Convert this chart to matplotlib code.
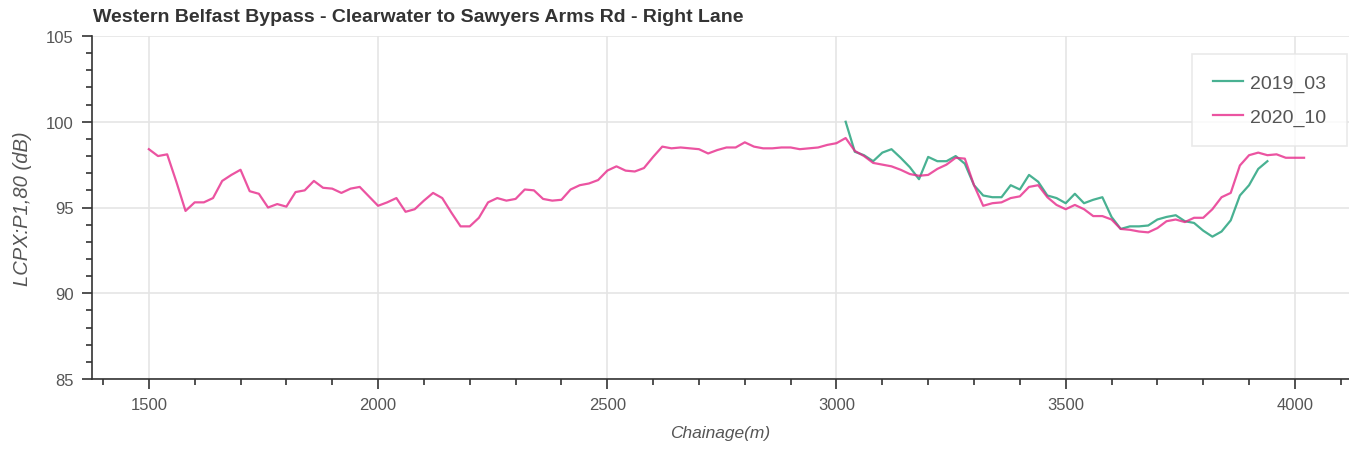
import numpy as np
import matplotlib
matplotlib.use("Agg")
import matplotlib.pyplot as plt
from matplotlib.ticker import MultipleLocator

# chainage (m) sampled every 20 m
ch_2020 = np.arange(1500, 4021, 20)
lcpx_2020 = [
    98.4, 98.0, 98.1, 96.5, 94.8, 95.3, 95.3, 95.55, 96.55, 96.9,
    97.2, 95.95, 95.8, 95.0, 95.2, 95.05, 95.9, 96.0, 96.55, 96.15,
    96.1, 95.85, 96.1, 96.2, 95.65, 95.1, 95.3, 95.55, 94.75, 94.9,
    95.4, 95.85, 95.55, 94.7, 93.9, 93.9, 94.4, 95.3, 95.55, 95.4,
    95.5, 96.05, 96.0, 95.5, 95.4, 95.45, 96.05, 96.3, 96.4, 96.6,
    97.15, 97.4, 97.15, 97.1, 97.3, 97.95, 98.55, 98.45, 98.5, 98.45,
    98.4, 98.15, 98.35, 98.5, 98.5, 98.8, 98.55, 98.45, 98.45, 98.5,
    98.5, 98.4, 98.45, 98.5, 98.65, 98.75, 99.05, 98.3, 98.0, 97.6,
    97.5, 97.4, 97.2, 96.95, 96.85, 96.9, 97.25, 97.5, 97.9, 97.85,
    96.3, 95.1, 95.25, 95.3, 95.55, 95.65, 96.2, 96.3, 95.6, 95.15,
    94.9, 95.15, 94.9, 94.5, 94.5, 94.3, 93.75, 93.7, 93.6, 93.55,
    93.8, 94.2, 94.3, 94.15, 94.4, 94.4, 94.9, 95.6, 95.85, 97.45,
    98.05, 98.2, 98.05, 98.1, 97.9, 97.9, 97.9,
]

ch_2019 = np.arange(3020, 3941, 20)
lcpx_2019 = [
    100.0, 98.25, 98.05, 97.7, 98.2, 98.4, 97.9, 97.35, 96.65, 97.95,
    97.7, 97.7, 98.0, 97.55, 96.3, 95.7, 95.6, 95.6, 96.3, 96.05,
    96.9, 96.5, 95.7, 95.55, 95.25, 95.8, 95.25, 95.45, 95.6, 94.45,
    93.75, 93.9, 93.9, 93.95, 94.3, 94.45, 94.55, 94.2, 94.1, 93.65,
    93.3, 93.6, 94.25, 95.7, 96.3, 97.25, 97.7,
]

plt.rcParams['font.family'] = ['Liberation Sans', 'DejaVu Sans']

fig = plt.figure(figsize=(13.49, 4.52), dpi=100)
ax = fig.add_axes([92 / 1349, 1 - 380 / 452, 1 - 92 / 1349, (380 - 37) / 452])

ax.plot(ch_2019, lcpx_2019, color='#1b9e77', alpha=0.8, lw=1.6, label='2019_03')
ax.plot(ch_2020, lcpx_2020, color='#e7298a', alpha=0.8, lw=1.6, label='2020_10')

ax.set_xlim(1376, 4118)
ax.set_ylim(85, 105)
ax.xaxis.set_major_locator(MultipleLocator(500))
ax.xaxis.set_minor_locator(MultipleLocator(100))
ax.yaxis.set_major_locator(MultipleLocator(5))
ax.yaxis.set_minor_locator(MultipleLocator(1))

ax.grid(True, which='major', color='#e5e5e5', lw=1.2)
ax.set_axisbelow(True)
for side in ['top', 'right']:
    ax.spines[side].set_visible(False)
for side in ['left', 'bottom']:
    ax.spines[side].set_color('#333333')
    ax.spines[side].set_linewidth(1.2)

ax.tick_params(which='major', direction='out', length=7, width=1.2,
               color='#333333', labelcolor='#555555', labelsize=12, pad=6)
ax.tick_params(which='minor', direction='out', length=4, width=1.2, color='#333333')

ax.set_xlabel('Chainage(m)', fontsize=12.5, style='italic', color='#555555', labelpad=9)
ax.set_ylabel('LCPX:P1,80 (dB)', fontsize=14.5, style='italic', color='#555555', labelpad=10)

fig.text(93 / 1349, 1 - 18 / 452, 'Western Belfast Bypass - Clearwater to Sawyers Arms Rd - Right Lane',
         fontsize=14, fontweight='bold', color='#333333', ha='left', va='center')

leg = ax.legend(loc='upper right', bbox_to_anchor=(1347 / 1349, 1 - 55 / 452),
                bbox_transform=fig.transFigure, fontsize=14, frameon=True, fancybox=False,
                handlelength=1.55, handletextpad=0.4, borderpad=1.05, labelspacing=0.8,
                borderaxespad=0)
leg.get_frame().set_edgecolor('#e5e5e5')
leg.get_frame().set_linewidth(1.2)
for t in leg.get_texts():
    t.set_color('#555555')

fig.savefig('out.png', dpi=100)
